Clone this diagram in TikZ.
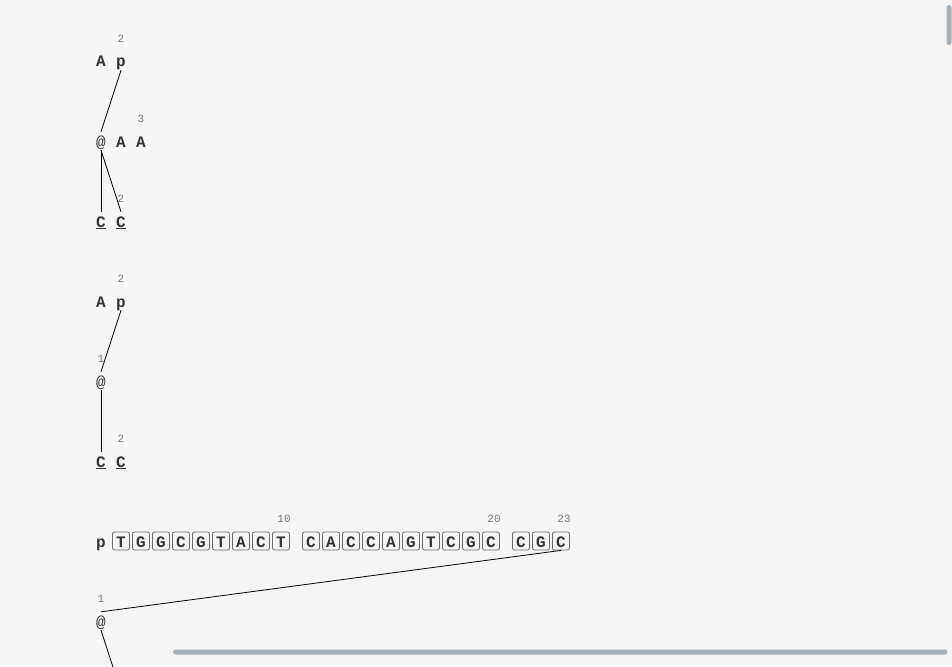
\documentclass[tikz,border=0pt]{standalone}
\usepackage{fontspec}
\setmonofont{Liberation Mono}

\definecolor{pagebg}{HTML}{F5F5F5}
\definecolor{inkdark}{HTML}{333333}
\definecolor{inkgrey}{HTML}{777777}
\definecolor{boxgrey}{HTML}{6A6A6A}
\definecolor{barblue}{HTML}{A6B0B8}

\tikzset{
	token/.style={inner sep=0pt, text height=13pt, text depth=1pt, minimum height=18pt, text=inkdark, font=\ttfamily\bfseries\fontsize{16}{16}\selectfont},
	atsign/.style={token, font=\ttfamily\fontsize{16}{16}\selectfont},
	basebox/.style={token, draw=boxgrey, line width=0.8pt, rounded corners=2pt, minimum width=17pt},
	posnum/.style={inner sep=0pt, text=inkgrey, font=\ttfamily\fontsize{11}{11}\selectfont},
	link/.style={black, line width=0.8pt}
}

\begin{document}
\begin{tikzpicture}[x=1pt, y=-1pt]
		
		\useasboundingbox (0,0) rectangle (952,666);
		\fill[pagebg] (0,0) rectangle (952,666);
		\clip (0,0) rectangle (952,666);
		
		% First tree
		\node (tokenA1) at (101,61) [token]{A};
		\node (tokenP1) at (121,61) [token]{p};
		\node (numP1) at (121,39) [posnum]{2};
		
		\node (atSign1) at (101,141) [atsign]{@};
		\node (tokenA2) at (121,141) [token]{A};
		\node (tokenA3) at (141,141) [token]{A};
		\node (numA3) at (141,119) [posnum]{3};
		
		\node (tokenC1) at (101,221) [token]{\underline{C}};
		\node (tokenC2) at (121,221) [token]{\underline{C}};
		\node (numC2) at (121,199) [posnum]{2};
		
		% Linking the first tree
		\draw[link] (tokenP1.south) -- (atSign1.north);
		\draw[link] (atSign1.south) -- (tokenC1.north);
		\draw[link] (atSign1.south) -- (tokenC2.north);
		
		% Second tree
		\node (tokenA4) at (101,301) [token]{A};
		\node (tokenP2) at (121,301) [token]{p};
		\node (numP2) at (121,279) [posnum]{2};
		
		\node (atSign2) at (101,381) [atsign]{@};
		\node (numAt2) at (101,359) [posnum]{1};
		
		\node (tokenC3) at (101,461) [token]{\underline{C}};
		\node (tokenC4) at (121,461) [token]{\underline{C}};
		\node (numC4) at (121,439) [posnum]{2};
		
		% Linking the second tree
		\draw[link] (tokenP2.south) -- (atSign2.north);
		\draw[link] (atSign2.south) -- (tokenC3.north);
		
		% Sequence row
		\node (tokenP3) at (101,541) [token]{p};
		\node (base2) at (121,541) [basebox]{T};
		\node (base3) at (141,541) [basebox]{G};
		\node (base4) at (161,541) [basebox]{G};
		\node (base5) at (181,541) [basebox]{C};
		\node (base6) at (201,541) [basebox]{G};
		\node (base7) at (221,541) [basebox]{T};
		\node (base8) at (241,541) [basebox]{A};
		\node (base9) at (261,541) [basebox]{C};
		\node (base10) at (281,541) [basebox]{T};
		
		\node (base11) at (311,541) [basebox]{C};
		\node (base12) at (331,541) [basebox]{A};
		\node (base13) at (351,541) [basebox]{C};
		\node (base14) at (371,541) [basebox]{C};
		\node (base15) at (391,541) [basebox]{A};
		\node (base16) at (411,541) [basebox]{G};
		\node (base17) at (431,541) [basebox]{T};
		\node (base18) at (451,541) [basebox]{C};
		\node (base19) at (471,541) [basebox]{G};
		\node (base20) at (491,541) [basebox]{C};
		
		\node (base21) at (521,541) [basebox]{C};
		\node (base22) at (541,541) [basebox]{G};
		\node (base23) at (561,541) [basebox]{C};
		
		\node (num10) at (284,519) [posnum]{10};
		\node (num20) at (494,519) [posnum]{20};
		\node (num23) at (564,519) [posnum]{23};
		
		% Third tree
		\node (atSign3) at (101,621) [atsign]{@};
		\node (numAt3) at (101,599) [posnum]{1};
		\coordinate (offBelow) at (121,692);
		
		\draw[link] (base23.south) -- (atSign3.north);
		\draw[link] (atSign3.south) -- (offBelow);
		
		% Scroll bars
		\fill[barblue, rounded corners=2.5pt] (946.5,5) rectangle (951.5,45);
		\fill[barblue, rounded corners=2.5pt] (173,649.5) rectangle (947.5,654.5);
		
\end{tikzpicture}
\end{document}
